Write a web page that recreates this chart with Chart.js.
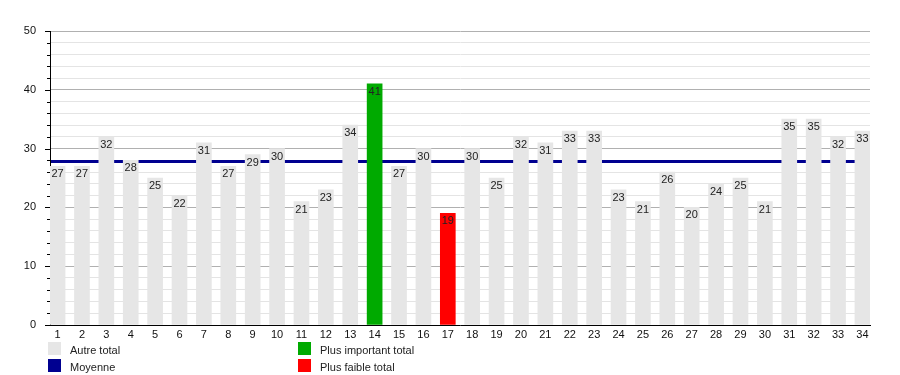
<!DOCTYPE html>
<html><head><meta charset="utf-8">
<script src="https://cdn.jsdelivr.net/npm/chart.js@4/dist/chart.umd.min.js"></script>
<style>
html,body{margin:0;padding:0;background:#fff;}
#wrap{position:relative;width:900px;height:375px;}
canvas{position:absolute;left:0;top:0;}
.lg{position:absolute;font:11px "Liberation Sans",Arial,sans-serif;color:#222;white-space:nowrap;}
.sw{position:absolute;width:13px;height:13px;}
</style></head>
<body><div id="wrap"><canvas id="c" width="900" height="375"></canvas></div>
<script>
const categories = [1,2,3,4,5,6,7,8,9,10,11,12,13,14,15,16,17,18,19,20,21,22,23,24,25,26,27,28,29,30,31,32,33,34];
const totals = [27,27,32,28,25,22,31,27,29,30,21,23,34,41,27,30,19,30,25,32,31,33,33,23,21,26,20,24,25,21,35,35,32,33];
const meanValue = 27.8;
const yTicks = [0,10,20,30,40,50];
const legendItems = [
  {label:'Autre total', color:'#e6e6e6', col:0, row:0},
  {label:'Moyenne', color:'#000090', col:0, row:1},
  {label:'Plus important total', color:'#00aa00', col:1, row:0},
  {label:'Plus faible total', color:'#ff0000', col:1, row:1}
];
const maxV = Math.max(...totals), minV = Math.min(...totals);
const barColors = totals.map(v => v===maxV ? '#00aa00' : (v===minV ? '#ff0000' : '#e6e6e6'));

const meanPlugin = {
  id:'meanLine',
  beforeDatasetsDraw(chart){
    const {ctx, chartArea:a, scales:{y}} = chart;
    const py = y.getPixelForValue(meanValue);
    ctx.save(); ctx.strokeStyle='#000090'; ctx.lineWidth=3;
    ctx.beginPath(); ctx.moveTo(a.left+1, py); ctx.lineTo(a.right, py); ctx.stroke(); ctx.restore();
  },
  afterDatasetsDraw(chart){
    const {ctx} = chart;
    const meta = chart.getDatasetMeta(0);
    ctx.save(); ctx.font='11px "Liberation Sans", Arial, sans-serif'; ctx.fillStyle='#222';
    ctx.textAlign='center'; ctx.textBaseline='middle';
    meta.data.forEach((bar,i)=>{ ctx.fillText(String(totals[i]), bar.x, bar.y+8); });
    ctx.restore();
  },
  afterDraw(chart){
    const {ctx, chartArea:a, scales:{y}} = chart;
    ctx.save(); ctx.strokeStyle='#000'; ctx.lineWidth=1;
    y.ticks.forEach(t=>{
      const py = Math.round(y.getPixelForValue(t.value))+0.5;
      const len = t.value%10===0 ? 5 : 3;
      ctx.beginPath(); ctx.moveTo(a.left-len, py); ctx.lineTo(a.left, py); ctx.stroke();
    });
    ctx.restore();
  }
};

new Chart(document.getElementById('c'), {
  type:'bar',
  data:{ datasets:[{
    data: categories.map((c,i)=>({x:c, y:totals[i]})),
    backgroundColor: barColors, borderWidth:0, barThickness:15
  }]},
  options:{
    responsive:false, animation:false,
    layout:{padding:{top:31,right:30,left:0,bottom:0}},
    plugins:{legend:{display:false}, tooltip:{enabled:false}},
    scales:{
      x:{ type:'linear', min:0.69, max:34.31, offset:false,
        afterBuildTicks(s){ s.ticks = categories.map(v=>({value:v})); },
        afterFit(s){ s.height = 50; },
        grid:{display:false, drawTicks:false},
        border:{display:true, color:'#000', width:1},
        ticks:{ color:'#111', font:{family:'"Liberation Sans", Arial, sans-serif', size:11}, padding:3, maxRotation:0, autoSkip:false,
          callback:(v)=>String(v) }
      },
      y:{ min:0, max:50,
        afterBuildTicks(s){ const t=[]; for(let v=0; v<=50; v+=2) t.push({value:v}); s.ticks=t; },
        afterFit(s){ s.width = 50; },
        grid:{ drawTicks:false, color:(c)=> (c.tick && c.tick.value%10===0) ? '#b0b0b0' : '#e4e4e4', lineWidth:1 },
        border:{display:true, color:'#000', width:1},
        ticks:{ color:'#111', autoSkip:false, font:{family:'"Liberation Sans", Arial, sans-serif', size:11}, padding:14,
          callback:(v)=> yTicks.includes(v) ? String(v) : '' }
      }
    }
  },
  plugins:[meanPlugin]
});

const wrap = document.getElementById('wrap');
legendItems.forEach(it=>{
  const x0 = it.col===0 ? 48 : 298, y0 = it.row===0 ? 342 : 359;
  const sw = document.createElement('div'); sw.className='sw';
  sw.style.left=x0+'px'; sw.style.top=y0+'px'; sw.style.background=it.color; wrap.appendChild(sw);
  const tx = document.createElement('div'); tx.className='lg'; tx.textContent=it.label;
  tx.style.left=(x0+22)+'px'; tx.style.top=(y0+2)+'px'; tx.style.lineHeight='13px'; wrap.appendChild(tx);
});
</script></body></html>
